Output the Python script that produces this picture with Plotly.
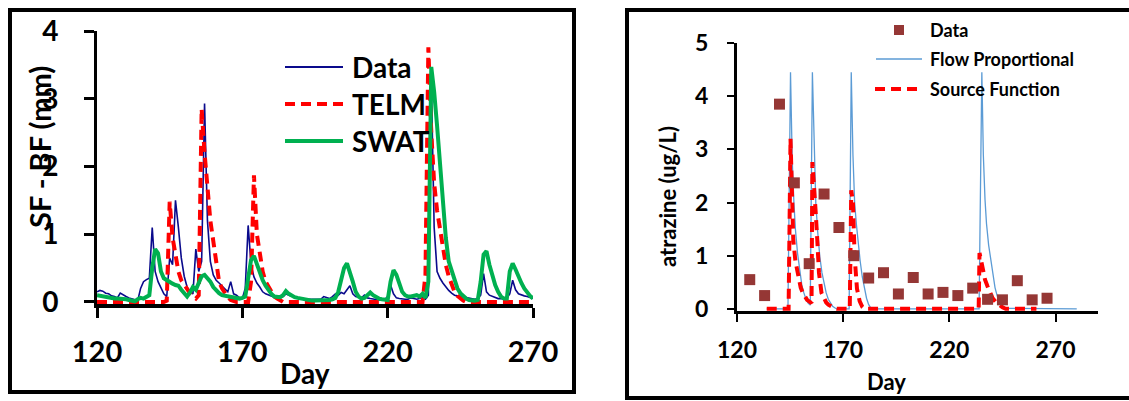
import plotly.graph_objects as go

W, H = 1129, 401

# ---------------- Left panel data (daily, day 120..270) ----------------
days_left = list(range(120, 271))

data_sf = [0.15, 0.17, 0.16, 0.13, 0.12, 0.09, 0.08, 0.06, 0.13, 0.10,
           0.08, 0.06, 0.05, 0.03, 0.02, 0.20, 0.30, 0.33, 0.35, 1.10,
           0.45, 0.30, 0.22, 0.12, 0.08, 0.65, 0.55, 1.50, 1.10, 0.65,
           0.38, 0.22, 0.15, 0.12, 0.78, 0.45, 0.60, 2.93, 1.20, 0.60,
           0.40, 0.32, 0.28, 0.24, 0.20, 0.15, 0.30, 0.12, 0.10, 0.06,
           0.05, 0.20, 1.13, 0.55, 0.37, 0.28, 0.22, 0.15, 0.12, 0.10,
           0.08, 0.07, 0.06, 0.06, 0.08, 0.12, 0.10, 0.08, 0.07, 0.06,
           0.06, 0.05, 0.04, 0.04, 0.03, 0.03, 0.03, 0.04, 0.08, 0.06,
           0.05, 0.08, 0.12, 0.10, 0.14, 0.12, 0.18, 0.24, 0.12, 0.08,
           0.07, 0.06, 0.10, 0.06, 0.05, 0.04, 0.04, 0.03, 0.03, 0.04,
           0.08, 0.25, 0.12, 0.06, 0.05, 0.04, 0.04, 0.04, 0.06, 0.05,
           0.04, 0.05, 0.06, 0.04, 0.10, 3.30, 1.10, 0.45, 0.35, 0.28,
           0.22, 0.17, 0.13, 0.10, 0.09, 0.08, 0.07, 0.06, 0.05, 0.05,
           0.04, 0.05, 0.10, 0.42, 0.15, 0.10, 0.08, 0.06, 0.05, 0.05,
           0.04, 0.06, 0.12, 0.32, 0.18, 0.12, 0.10, 0.09, 0.08, 0.07,
           0.05]

telm_sf = [0, 0, 0, 0, 0, 0, 0, 0, 0, 0,
           0, 0, 0, 0, 0, 0, 0, 0, 0, 0,
           0, 0, 0, 0, 0.02, 1.48, 0.95, 0.65, 0.45, 0.32,
           0.25, 0.20, 0.13, 0.08, 0.05, 0.10, 2.85, 2.20, 1.60, 1.20,
           0.90, 0.55, 0.30, 0.20, 0.12, 0.07, 0.03, 0.01, 0, 0,
           0, 0, 0, 0.30, 1.87, 1.00, 0.70, 0.45, 0.30, 0.22,
           0.14, 0.08, 0.05, 0.02, 0, 0, 0, 0, 0, 0,
           0, 0, 0, 0, 0, 0, 0, 0, 0, 0,
           0, 0, 0, 0, 0, 0, 0, 0, 0, 0,
           0, 0, 0, 0, 0, 0, 0, 0, 0, 0,
           0, 0, 0, 0, 0, 0, 0, 0, 0, 0,
           0, 0, 0, 0.40, 3.76, 2.50, 1.75, 1.35, 1.05, 0.75,
           0.55, 0.38, 0.25, 0.15, 0.09, 0.05, 0.02, 0, 0, 0,
           0, 0, 0, 0, 0, 0, 0, 0, 0, 0,
           0, 0, 0, 0, 0, 0, 0, 0, 0, 0,
           0]

swat_sf = [0.10, 0.09, 0.08, 0.07, 0.07, 0.06, 0.05, 0.05, 0.05, 0.04,
           0.04, 0.03, 0.02, 0.01, 0.04, 0.06, 0.05, 0.08, 0.10, 0.50,
           0.78, 0.72, 0.45, 0.35, 0.32, 0.29, 0.27, 0.25, 0.24, 0.18,
           0.12, 0.08, 0.14, 0.22, 0.18, 0.28, 0.38, 0.40, 0.35, 0.30,
           0.22, 0.17, 0.13, 0.10, 0.09, 0.08, 0.07, 0.06, 0.05, 0.05,
           0.06, 0.08, 0.35, 0.62, 0.68, 0.55, 0.42, 0.32, 0.24, 0.17,
           0.12, 0.08, 0.07, 0.07, 0.10, 0.16, 0.12, 0.09, 0.07, 0.06,
           0.05, 0.04, 0.03, 0.02, 0.02, 0.02, 0.02, 0.02, 0.02, 0.02,
           0.03, 0.04, 0.06, 0.15, 0.30, 0.50, 0.57, 0.45, 0.30, 0.15,
           0.08, 0.05, 0.06, 0.10, 0.14, 0.10, 0.07, 0.05, 0.04, 0.03,
           0.03, 0.30, 0.47, 0.40, 0.25, 0.15, 0.10, 0.08, 0.08, 0.09,
           0.10, 0.08, 0.12, 0.06, 0.30, 3.47, 3.10, 2.60, 2.00, 1.40,
           0.95, 0.60, 0.45, 0.30, 0.20, 0.13, 0.08, 0.05, 0.03, 0.02,
           0.02, 0.03, 0.30, 0.70, 0.75, 0.55, 0.38, 0.25, 0.15, 0.08,
           0.05, 0.05, 0.45, 0.57, 0.48, 0.37, 0.28, 0.20, 0.14, 0.09,
           0.05]

left_xticks = [120, 170, 220, 270]
left_yticks = [0, 1, 2, 3, 4]

# ---------------- Right panel data ----------------
obs_day = [126, 133, 140, 147, 154, 161, 168, 175, 182, 189, 196,
           203, 210, 217, 224, 231, 238, 245, 252, 259, 266]
obs_atz = [0.55, 0.25, 3.85, 2.37, 0.85, 2.16, 1.53, 1.00, 0.58, 0.68, 0.28,
           0.59, 0.28, 0.31, 0.25, 0.39, 0.18, 0.17, 0.53, 0.17, 0.20]

flow_day = [134, 144.0, 145.2, 146.0, 146.8, 147.5, 148.5, 149.5, 150.5, 151.5,
            152.5, 153.5, 154.5, 155.5, 156.3, 157.1, 158, 159, 160, 161,
            162, 163, 164, 165, 166, 167, 172.8, 173.8, 174.6, 175.4,
            176.2, 177, 178, 179, 180, 181, 182, 183, 184, 234.0,
            235.3, 236.0, 236.8, 237.5, 238.5, 239.5, 240.5, 241.5, 242.5, 243.5,
            244.5, 245.5, 247, 280]
flow_atz = [0, 0, 4.45, 2.80, 2.00, 1.50, 1.05, 0.70, 0.45, 0.30,
            0.18, 0.11, 0.07, 4.45, 2.90, 2.00, 1.45, 0.98, 0.68, 0.45,
            0.30, 0.18, 0.10, 0.05, 0.02, 0, 0, 4.45, 2.90, 2.00,
            1.60, 1.25, 0.90, 0.60, 0.38, 0.20, 0.08, 0.02, 0, 0,
            4.45, 2.90, 2.05, 1.60, 1.20, 0.90, 0.62, 0.40, 0.25, 0.14,
            0.08, 0.04, 0.01, 0]

src_day = [134, 144.3, 145.2, 145.7, 146.2, 146.5, 147.5, 148.8, 150, 151,
           152, 153, 154.3, 155.1, 155.5, 156.2, 157, 157.8, 158.6, 159.8,
           161, 162, 163, 164, 165, 166, 167, 173.1, 173.8, 174.6,
           175.0, 175.4, 176.5, 177.8, 179, 180, 233.8, 234.2, 235, 235.7,
           236.8, 238, 239.2, 240.4, 242, 243.5, 245, 246.5, 261]
src_atz = [0, 0, 3.20, 2.30, 1.60, 1.30, 0.90, 0.60, 0.40, 0.30,
           0.23, 0.17, 0.13, 0.11, 2.76, 2.20, 1.85, 1.30, 0.68, 0.30,
           0.18, 0.12, 0.08, 0.05, 0.03, 0.01, 0, 0, 2.23, 2.00,
           1.50, 0.98, 0.38, 0.14, 0.04, 0, 0, 1.05, 0.90, 0.73,
           0.55, 0.42, 0.30, 0.20, 0.12, 0.07, 0.03, 0, 0]

right_xticks = [120, 170, 220, 270]
right_yticks = [0, 1, 2, 3, 4, 5]

# ---------------- Figure ----------------
FONT = "Lato"


def px(x):
    return x / W


def py(y):
    return 1 - y / H


fig = go.Figure()

fig.add_trace(go.Scatter(x=days_left, y=data_sf, mode="lines", name="Data",
                         line=dict(color="#0A0A8C", width=1.6),
                         xaxis="x", yaxis="y", showlegend=False))
fig.add_trace(go.Scatter(x=days_left, y=telm_sf, mode="lines", name="TELM",
                         line=dict(color="#FF0000", width=4, dash="10px,6px"),
                         xaxis="x", yaxis="y", showlegend=False))
fig.add_trace(go.Scatter(x=days_left, y=swat_sf, mode="lines", name="SWAT",
                         line=dict(color="#00B050", width=4),
                         xaxis="x", yaxis="y", showlegend=False))

fig.add_trace(go.Scatter(x=flow_day, y=flow_atz, mode="lines", name="Flow Proportional",
                         line=dict(color="#5B9BD5", width=1.3),
                         xaxis="x2", yaxis="y2", showlegend=False))
fig.add_trace(go.Scatter(x=src_day, y=src_atz, mode="lines", name="Source Function",
                         line=dict(color="#FF0000", width=4, dash="10px,6px"),
                         xaxis="x2", yaxis="y2", showlegend=False))
fig.add_trace(go.Scatter(x=obs_day, y=obs_atz, mode="markers", name="Data",
                         marker=dict(symbol="square", size=11, color="#953735"),
                         xaxis="x2", yaxis="y2", showlegend=False))

axis_common = dict(showgrid=False, zeroline=False, showline=True, linecolor="black",
                   ticks="outside", tickcolor="black", layer="below traces",
                   automargin=False)

fig.update_layout(
    width=W, height=H,
    margin=dict(l=0, r=0, t=0, b=0, autoexpand=False),
    paper_bgcolor="white", plot_bgcolor="white",
    showlegend=False,
    xaxis=dict(domain=[px(97), px(533)], range=[120, 270], tickvals=left_xticks,
               linewidth=4, ticklen=10, tickwidth=3, anchor="y",
               tickfont=dict(family=FONT, size=29, color="black", weight="bold"),
               ticklabelstandoff=9, **axis_common),
    yaxis=dict(domain=[py(304), py(31)], range=[-0.03, 4], tickvals=left_yticks,
               linewidth=3, ticklen=10, tickwidth=3, anchor="x",
               tickfont=dict(family=FONT, size=28, color="black", weight="bold"),
               ticklabelstandoff=20, **axis_common),
    xaxis2=dict(domain=[px(737), px(1098)], range=[120, 290], tickvals=right_xticks,
                linewidth=3, ticklen=8, tickwidth=2, anchor="y2",
                tickfont=dict(family=FONT, size=23, color="black", weight="bold"),
                ticklabelstandoff=8, **axis_common),
    yaxis2=dict(domain=[py(311), py(43)], range=[-0.04, 5], tickvals=right_yticks,
                linewidth=3, ticklen=7, tickwidth=2, anchor="x2",
                tickfont=dict(family=FONT, size=23, color="black", weight="bold"),
                ticklabelstandoff=14, **axis_common),
)

shapes = []
# Panel borders
shapes.append(dict(type="rect", xref="paper", yref="paper",
                   x0=px(10), x1=px(574), y0=py(392), y1=py(10),
                   line=dict(color="black", width=4)))
shapes.append(dict(type="rect", xref="paper", yref="paper",
                   x0=px(627), x1=px(1140), y0=py(398), y1=py(10),
                   line=dict(color="black", width=4)))

# Left legend samples
shapes.append(dict(type="line", xref="paper", yref="paper", x0=px(285), x1=px(343),
                   y0=py(67), y1=py(67), line=dict(color="#0A0A8C", width=2)))
shapes.append(dict(type="line", xref="paper", yref="paper", x0=px(285), x1=px(343),
                   y0=py(104), y1=py(104), line=dict(color="#FF0000", width=4, dash="10px,6px")))
shapes.append(dict(type="line", xref="paper", yref="paper", x0=px(285), x1=px(343),
                   y0=py(141), y1=py(141), line=dict(color="#00B050", width=4)))
# Right legend samples
shapes.append(dict(type="rect", xref="paper", yref="paper", x0=px(894), x1=px(904),
                   y0=py(35), y1=py(25), fillcolor="#953735", line=dict(width=0)))
shapes.append(dict(type="line", xref="paper", yref="paper", x0=px(876), x1=px(922),
                   y0=py(59), y1=py(59), line=dict(color="#5B9BD5", width=1.5)))
shapes.append(dict(type="line", xref="paper", yref="paper", x0=px(875), x1=px(918),
                   y0=py(89), y1=py(89), line=dict(color="#FF0000", width=4, dash="10px,6px")))

fig.update_layout(shapes=shapes)

ann = []


def label(text, x, y, size, xanchor="left", angle=0):
    ann.append(dict(text=text, xref="paper", yref="paper", x=px(x), y=py(y),
                    xanchor=xanchor, yanchor="middle", showarrow=False,
                    textangle=angle,
                    font=dict(family=FONT, size=size, color="black", weight="bold")))


label("Data", 350, 67, 28)
label("TELM", 350, 104, 28)
label("SWAT", 350, 141, 28)
label("SF - BF (mm)", 40, 147, 29, xanchor="center", angle=-90)
label("Day", 305, 373, 28, xanchor="center")

label("Data", 928, 30, 18)
label("Flow Proportional", 928, 59, 18)
label("Source Function", 928, 89, 18)
label("atrazine (ug/L)", 668, 197, 22, xanchor="center", angle=-90)
label("Day", 886, 381, 22, xanchor="center")

fig.update_layout(annotations=ann)

fig.write_html("out.html")
